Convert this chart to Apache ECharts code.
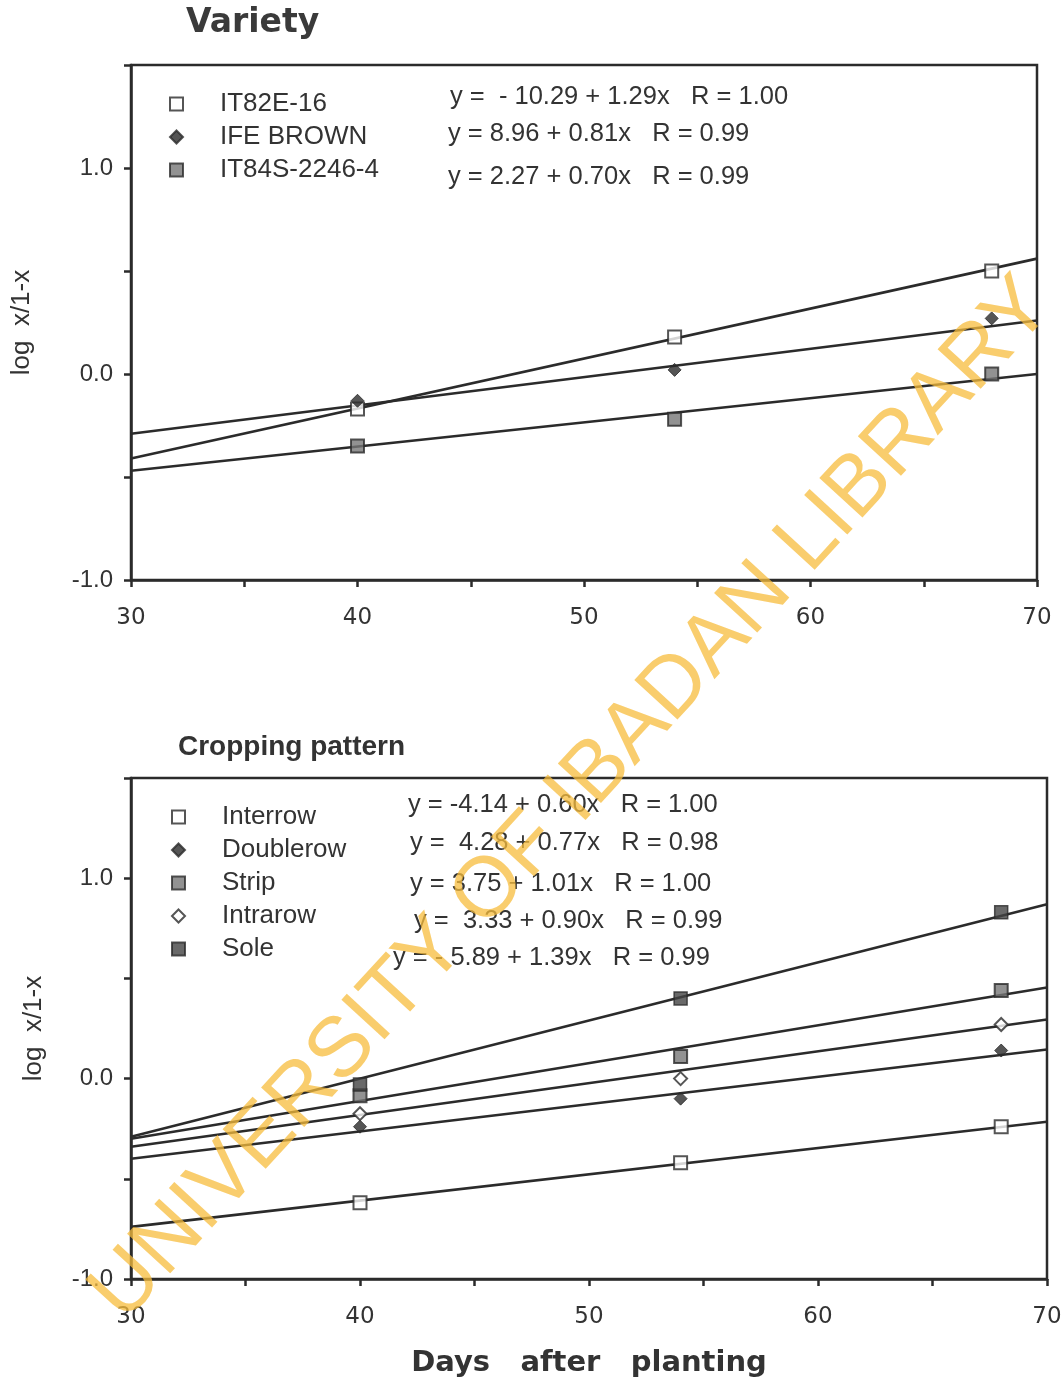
<!DOCTYPE html>
<html>
<head>
<meta charset="utf-8">
<script src="https://cdn.jsdelivr.net/npm/echarts@6/dist/echarts.min.js"></script>
<style>
html,body{margin:0;padding:0;background:#fff;}
#chart{width:1063px;height:1381px;}
</style>
</head>
<body>
<div id="chart"></div>
<script>
// ---- Data ----
const days = [40, 54, 68];          // sampling days (x)
const fitDays = [30, 70];           // regression line ends

// Variety panel
const varietyNames = ['IT82E-16', 'IFE BROWN', 'IT84S-2246-4'];
const it82e16 = [-0.17, 0.18, 0.50];
const it82e16Fit = [-0.41, 0.56];
const ifeBrown = [-0.13, 0.02, 0.27];
const ifeBrownFit = [-0.29, 0.26];
const it84s = [-0.35, -0.22, 0.00];
const it84sFit = [-0.47, 0.00];
const varietyEq = [
  'y =  - 10.29 + 1.29x   R = 1.00',
  'y = 8.96 + 0.81x   R = 0.99',
  'y = 2.27 + 0.70x   R = 0.99'
];

// Cropping pattern panel
const patternNames = ['Interrow', 'Doublerow', 'Strip', 'Intrarow', 'Sole'];
const interrow = [-0.62, -0.42, -0.24];
const interrowFit = [-0.74, -0.215];
const doublerow = [-0.24, -0.10, 0.14];
const doublerowFit = [-0.40, 0.145];
const strip = [-0.085, 0.11, 0.44];
const stripFit = [-0.30, 0.455];
const intrarow = [-0.175, 0.00, 0.27];
const intrarowFit = [-0.34, 0.295];
const sole = [-0.03, 0.40, 0.83];
const soleFit = [-0.29, 0.87];
const patternEq = [
  'y = -4.14 + 0.60x   R = 1.00',
  'y =  4.28 + 0.77x   R = 0.98',
  'y = 3.75 + 1.01x   R = 1.00',
  'y =  3.33 + 0.90x   R = 0.99',
  'y = - 5.89 + 1.39x   R = 0.99'
];

const xTickLabels = ['30', '40', '50', '60', '70'];
const yTickLabels = ['-1.0', '0.0', '1.0'];

// ---- Styles ----
const ink = '#2b2b2b';
const font = 'Liberation Sans, Arial, sans-serif';

const markerStyles = {
  open:    { symbol: 'rect',    itemStyle: { color: '#fff', borderColor: ink, borderWidth: 2 } },
  grey:    { symbol: 'rect',    itemStyle: { color: '#777', borderColor: ink, borderWidth: 2 } },
  filled:  { symbol: 'rect',    itemStyle: { color: '#444', borderColor: ink, borderWidth: 1.5 } },
  diamond: { symbol: 'diamond', itemStyle: { color: ink, borderColor: ink, borderWidth: 1 } },
  odiam:   { symbol: 'diamond', itemStyle: { color: '#fff', borderColor: ink, borderWidth: 2 } }
};

function pts(vals) { return days.map((d, i) => [d, vals[i]]); }
function fit(vals) { return fitDays.map((d, i) => [d, vals[i]]); }

function scatter(name, vals, style, gi) {
  return {
    type: 'scatter', name: name, xAxisIndex: gi, yAxisIndex: gi,
    data: pts(vals), symbol: style.symbol, symbolSize: 13,
    itemStyle: style.itemStyle, z: 5
  };
}
function line(name, vals, gi) {
  return {
    type: 'line', name: name, xAxisIndex: gi, yAxisIndex: gi,
    data: fit(vals), symbol: 'none',
    lineStyle: { color: ink, width: 2.6 }, z: 3
  };
}

function xAxis(gi, withName) {
  const a = {
    type: 'value', gridIndex: gi, min: 30, max: 70, interval: 5,
    axisLine: { show: true, onZero: false, lineStyle: { color: ink, width: 2.5 } },
    axisTick: { show: true, length: 7, lineStyle: { color: ink, width: 2.5 } },
    splitLine: { show: false },
    axisLabel: {
      margin: 27, color: '#333', fontSize: 23, fontFamily: 'DejaVu Sans, sans-serif',
      formatter: v => { const s = String(v); return xTickLabels.indexOf(s) >= 0 ? s : ''; }
    }
  };
  if (withName) {
    a.name = 'Days   after   planting';
    a.nameLocation = 'middle';
    a.nameGap = 70;
    a.nameTextStyle = { fontSize: 29, fontWeight: 'bold', color: '#333', fontFamily: 'DejaVu Sans, sans-serif' };
  }
  return a;
}
function yAxis(gi, gap) {
  return {
    type: 'value', gridIndex: gi, min: -1, max: 1.5, interval: 0.5,
    axisLine: { show: true, onZero: false, lineStyle: { color: ink, width: 2.5 } },
    axisTick: { show: true, length: 7, lineStyle: { color: ink, width: 2.5 } },
    splitLine: { show: false },
    axisLabel: {
      margin: 18, color: '#333', fontSize: 24, fontFamily: font,
      formatter: v => { const s = v.toFixed(1); return yTickLabels.indexOf(s) >= 0 ? s : ''; }
    },
    name: 'log  x/1-x', nameLocation: 'middle', nameGap: gap, nameRotate: 90,
    nameTextStyle: { fontSize: 26, color: '#333', fontFamily: font }
  };
}

const eqGraphics = [];
const eqTop = [[450, 84], [448, 121], [448, 164]];
varietyEq.forEach((t, i) => eqGraphics.push({
  type: 'text', left: eqTop[i][0], top: eqTop[i][1],
  style: { text: t, fontSize: 25.5, fill: '#333', fontFamily: font }
}));
const eqBot = [[408, 792], [410, 830], [410, 871], [414, 908], [393, 945]];
patternEq.forEach((t, i) => eqGraphics.push({
  type: 'text', left: eqBot[i][0], top: eqBot[i][1],
  style: { text: t, fontSize: 25.5, fill: '#333', fontFamily: font }
}));

const legendText = { fontSize: 26, color: '#333', fontFamily: font, lineHeight: 26, padding: [0, 0, 0, 32] };

const option = {
  backgroundColor: '#fff',
  animation: false,
  title: [
    { text: 'Variety', left: 186, top: 7, padding: 0,
      textStyle: { fontFamily: 'DejaVu Sans, sans-serif', fontWeight: 'bold', fontSize: 33, color: '#3a3a3a' } },
    { text: 'Cropping pattern', left: 178, top: 733, padding: 0,
      textStyle: { fontFamily: font, fontWeight: 'bold', fontSize: 28, color: '#333' } }
  ],
  legend: [
    { orient: 'vertical', left: 169, top: 91, padding: 0, itemGap: 7,
      itemWidth: 13, itemHeight: 13, data: varietyNames, textStyle: legendText,
      selectedMode: false },
    { orient: 'vertical', left: 171, top: 804, padding: 0, itemGap: 7,
      itemWidth: 13, itemHeight: 13, data: patternNames, textStyle: legendText,
      selectedMode: false }
  ],
  grid: [
    { left: 131, top: 65, width: 906, height: 515, show: true, borderColor: ink, borderWidth: 2.5,
      backgroundColor: 'transparent', outerBoundsMode: 'none', containLabel: false },
    { left: 131, top: 778, width: 916, height: 501, show: true, borderColor: ink, borderWidth: 2.5,
      backgroundColor: 'transparent', outerBoundsMode: 'none', containLabel: false }
  ],
  xAxis: [xAxis(0, false), xAxis(1, true)],
  yAxis: [yAxis(0, 96), yAxis(1, 84)],
  series: [
    line('fit IT82E-16', it82e16Fit, 0),
    line('fit IFE BROWN', ifeBrownFit, 0),
    line('fit IT84S-2246-4', it84sFit, 0),
    scatter('IT82E-16', it82e16, markerStyles.open, 0),
    scatter('IFE BROWN', ifeBrown, markerStyles.diamond, 0),
    scatter('IT84S-2246-4', it84s, markerStyles.grey, 0),

    line('fit Interrow', interrowFit, 1),
    line('fit Doublerow', doublerowFit, 1),
    line('fit Strip', stripFit, 1),
    line('fit Intrarow', intrarowFit, 1),
    line('fit Sole', soleFit, 1),
    scatter('Interrow', interrow, markerStyles.open, 1),
    scatter('Doublerow', doublerow, markerStyles.diamond, 1),
    scatter('Strip', strip, markerStyles.grey, 1),
    scatter('Intrarow', intrarow, markerStyles.odiam, 1),
    scatter('Sole', sole, markerStyles.filled, 1)
  ],
  graphic: eqGraphics.concat([
    { type: 'text', x: 572, y: 800, rotation: 47.5 * Math.PI / 180, z: 100, silent: true,
      style: { text: 'UNIVERSITY OF IBADAN LIBRARY', fontSize: 85, fontFamily: font,
               fill: 'rgba(247,188,60,0.75)', align: 'center', verticalAlign: 'middle' } }
  ])
};

const chart = echarts.init(document.getElementById('chart'), null, { renderer: 'canvas' });
chart.setOption(option);
</script>
</body>
</html>
